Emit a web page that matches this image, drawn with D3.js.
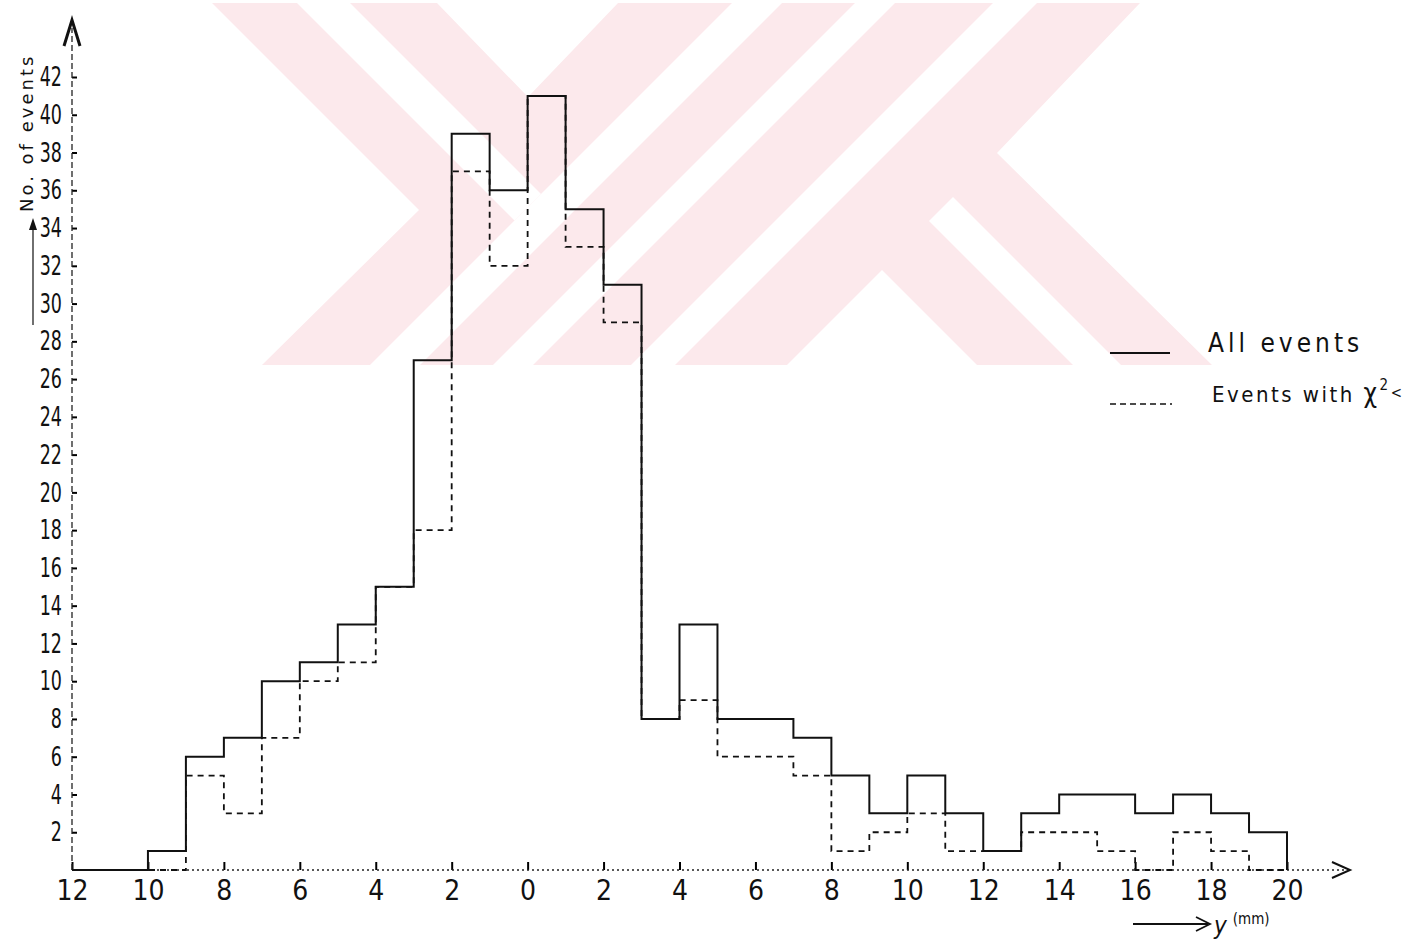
<!DOCTYPE html>
<html>
<head>
<meta charset="utf-8">
<script src="https://cdn.jsdelivr.net/npm/d3@7/dist/d3.min.js"></script>
<style>
  body { margin: 0; background: #fff; }
  svg { display: block; }
</style>
</head>
<body>
<svg id="chart" width="1427" height="950"></svg>
<script>
// bin starts along y (mm), each bin 1 mm wide
const binStarts = [-12, -11, -10, -9, -8, -7, -6, -5, -4, -3, -2, -1, 0, 1, 2, 3,
  4, 5, 6, 7, 8, 9, 10, 11, 12, 13, 14, 15, 16, 17, 18, 19];
const allEvents = [0, 0, 1, 6, 7, 10, 11, 13, 15, 27, 39, 36, 41, 35, 31, 8,
  13, 8, 8, 7, 5, 3, 5, 3, 1, 3, 4, 4, 3, 4, 3, 2];
const chiEvents = [0, 0, 0, 5, 3, 7, 10, 11, 15, 18, 37, 32, 41, 33, 29, 8,
  9, 6, 6, 5, 1, 2, 3, 1, 1, 2, 2, 1, 0, 2, 1, 0];
const xTicks = [-12, -10, -8, -6, -4, -2, 0, 2, 4, 6, 8, 10, 12, 14, 16, 18, 20];
const yTicks = [2, 4, 6, 8, 10, 12, 14, 16, 18, 20, 22, 24, 26, 28, 30, 32, 34, 36, 38, 40, 42];
const legendLabels = ['All events', 'Events with '];

const hand = "'DejaVu Sans Condensed', 'DejaVu Sans', sans-serif";

const svg = d3.select('#chart');

const x = d3.scaleLinear().domain([-12, 20]).range([72, 1287]);
const y = d3.scaleLinear().domain([0, 42]).range([870, 77]);

// background watermark
const wm = svg.append('g');
wm.append('clipPath').attr('id', 'wmclip')
  .append('polygon')
  .attr('points', [[212, 3], [437, 3], [528, 97], [618, 3], [1140, 3], [997, 153],
    [1212, 365], [977, 365], [882, 270], [787, 365], [262, 365], [419, 210]].join(' '));
wm.append('rect').attr('x', 0).attr('y', 0).attr('width', 1427).attr('height', 370)
  .attr('fill', '#fce9ec').attr('clip-path', 'url(#wmclip)');
const stripes = [
  [[735, 0], [785, 0], [415, 370], [365, 370]],
  [[858, 0], [898, 0], [528, 370], [488, 370]],
  [[996, 0], [1040, 0], [670, 370], [626, 370]],
  [[294, 0], [347, 0], [541, 194], [514.5, 220.5]],
  [[929, 221], [953, 197], [1126, 370], [1078, 370]]
];
wm.selectAll('polygon.stripe').data(stripes).join('polygon')
  .attr('class', 'stripe')
  .attr('points', d => d.join(' '))
  .attr('fill', '#fff')
  .attr('clip-path', 'url(#wmclip)');

// axes
const yAxis = svg.append('g')
  .attr('transform', `translate(${x(-12)},0)`)
  .call(d3.axisLeft(y).tickValues(yTicks).tickSize(-5).tickPadding(14));
yAxis.select('.domain').remove();
yAxis.selectAll('.tick line').attr('stroke-width', 2);
yAxis.selectAll('.tick text')
  .attr('font-family', hand).attr('font-size', 27).attr('fill', '#111')
  .attr('transform', 'scale(0.72,1)');

const xAxis = svg.append('g')
  .attr('transform', `translate(0,${y(0)})`)
  .call(d3.axisBottom(x).tickValues(xTicks).tickFormat(d => Math.abs(d)).tickSize(-8).tickPadding(10));
xAxis.select('.domain').remove();
xAxis.selectAll('.tick line').attr('stroke-width', 2);
xAxis.selectAll('.tick text').attr('font-family', hand).attr('font-size', 28).attr('fill', '#111');

// axis lines with arrows
svg.append('line')
  .attr('x1', x(-12)).attr('x2', x(-12)).attr('y1', y(0)).attr('y2', 28)
  .attr('stroke', '#222').attr('stroke-width', 1.3).attr('stroke-dasharray', '6,3');
svg.append('path')
  .attr('d', `M${x(-12) - 8},46 L${x(-12)},20 L${x(-12) + 8},46`)
  .attr('fill', 'none').attr('stroke', '#111').attr('stroke-width', 3);
svg.append('line')
  .attr('x1', x(-12)).attr('x2', 1350).attr('y1', y(0)).attr('y2', y(0))
  .attr('stroke', '#222').attr('stroke-width', 1.5).attr('stroke-dasharray', '2,3');
svg.append('path')
  .attr('d', `M1332,862 L1350,${y(0)} L1332,878`)
  .attr('fill', 'none').attr('stroke', '#111').attr('stroke-width', 2);

// histograms
const stepLine = d3.line()
  .x(d => x(d[0]))
  .y(d => y(d[1]))
  .curve(d3.curveStepAfter);
const pts = vals => binStarts.map((b, i) => [b, vals[i]]).concat([[20, 0]]);

svg.append('path')
  .attr('d', stepLine(pts(chiEvents)))
  .attr('fill', 'none').attr('stroke', '#111').attr('stroke-width', 1.8)
  .attr('stroke-dasharray', '6,5');
svg.append('path')
  .attr('d', stepLine(pts(allEvents)))
  .attr('fill', 'none').attr('stroke', '#111').attr('stroke-width', 2);

// y label
svg.append('text')
  .attr('transform', 'translate(33,212) rotate(-90)')
  .attr('font-family', "'DejaVu Sans', sans-serif").attr('font-size', 18)
  .attr('letter-spacing', 3).attr('fill', '#111')
  .text('No. of events');
svg.append('line')
  .attr('x1', 33).attr('x2', 33).attr('y1', 325).attr('y2', 224)
  .attr('stroke', '#222').attr('stroke-width', 1.3);
svg.append('path').attr('d', 'M29,230 L33,218 L37,230 Z').attr('fill', '#111');

// x label
svg.append('line')
  .attr('x1', 1133).attr('x2', 1208).attr('y1', 924).attr('y2', 924)
  .attr('stroke', '#111').attr('stroke-width', 1.8);
svg.append('path').attr('d', 'M1196,917 L1210,924 L1196,931')
  .attr('fill', 'none').attr('stroke', '#111').attr('stroke-width', 1.8);
const xl = svg.append('text')
  .attr('x', 1214).attr('y', 934)
  .attr('font-family', hand).attr('fill', '#111');
xl.append('tspan').attr('font-size', 24).attr('font-style', 'italic').text('y');
xl.append('tspan').attr('font-size', 15).attr('dx', 6).attr('dy', -10).text('(mm)');

// legend
const legend = svg.append('g').attr('transform', 'translate(1110,0)');
legend.append('line').attr('x1', 0).attr('x2', 60).attr('y1', 353).attr('y2', 353)
  .attr('stroke', '#111').attr('stroke-width', 1.8);
legend.append('line').attr('x1', 0).attr('x2', 62).attr('y1', 404).attr('y2', 404)
  .attr('stroke', '#111').attr('stroke-width', 1.6).attr('stroke-dasharray', '6,4');
legend.append('text')
  .attr('x', 98).attr('y', 352)
  .attr('font-family', hand).attr('font-size', 26).attr('letter-spacing', 4).attr('fill', '#111')
  .text(legendLabels[0]);
const l2 = legend.append('text')
  .attr('x', 102).attr('y', 402)
  .attr('font-family', hand).attr('font-size', 22).attr('letter-spacing', 2.5).attr('fill', '#111');
l2.append('tspan').text(legendLabels[1]);
l2.append('tspan').attr('font-size', 26).text('\u03c7');
l2.append('tspan').attr('font-size', 15).attr('dy', -12).text('2');
l2.append('tspan').attr('font-size', 15).attr('dy', 8).text('<');
</script>
</body>
</html>
